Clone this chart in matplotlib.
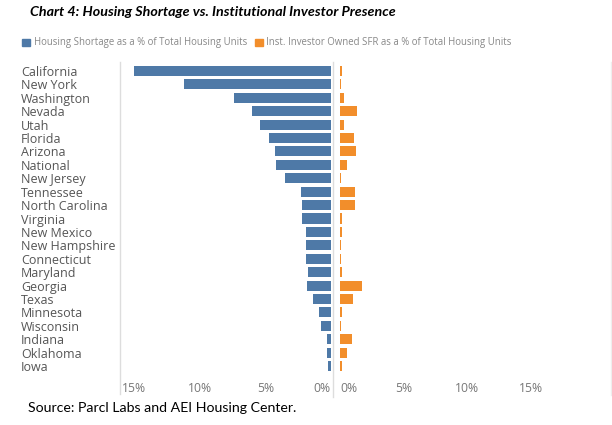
import numpy as np
import matplotlib.pyplot as plt
from matplotlib.patches import Patch
from matplotlib.lines import Line2D

### Data
states = ['California', 'New York', 'Washington', 'Nevada', 'Utah', 'Florida',
          'Arizona', 'National', 'New Jersey', 'Tennessee', 'North Carolina',
          'Virginia', 'New Mexico', 'New Hampshire', 'Connecticut', 'Maryland',
          'Georgia', 'Texas', 'Minnesota', 'Wisconsin', 'Indiana', 'Oklahoma', 'Iowa']
shortage = [15.0, 11.2, 7.4, 6.0, 5.4, 4.7, 4.3, 4.2, 3.5, 2.3, 2.2,
            2.2, 1.9, 1.87, 1.87, 1.77, 1.8, 1.34, 0.93, 0.76, 0.33, 0.33, 0.23]
investor = [0.16, 0.08, 0.3, 1.35, 0.3, 1.1, 1.25, 0.57, 0.1, 1.2, 1.15,
            0.15, 0.15, 0.06, 0.05, 0.12, 1.75, 1.0, 0.18, 0.07, 0.95, 0.57, 0.15]
ticks = [0, 5, 10, 15]

blue = '#4e79a7'
orange = '#f28e2b'
grey_line = '#dddddd'
text_grey = '#555555'
tick_grey = '#777777'

plt.rcParams['font.family'] = ['Open Sans', 'DejaVu Sans']

W, H = 612, 425
fig = plt.figure(figsize=(W / 100, H / 100), dpi=100)

def px_axes(x0, x1, y0, y1):
    return fig.add_axes([x0 / W, 1 - y1 / H, (x1 - x0) / W, (y1 - y0) / H])

def px_vline(x, y0, y1, color):
    fig.add_artist(Line2D([x / W, x / W], [1 - y0 / H, 1 - y1 / H],
                          color=color, lw=1, transform=fig.transFigure))

top, bottom = 62, 378
ax1 = px_axes(119, 333, top, bottom)
ax2 = px_axes(333, 610, top, bottom)

y = np.arange(len(states))
n = len(states)
# rows at 71..366 px, spacing ~13.4 px
row = (366 - 71) / (n - 1)
ylim = (n - 1 + (bottom - 366) / row, -(71 - top) / row)

ax1.barh(y, shortage, height=0.75, color=blue)
ax2.barh(y, investor, height=0.75, color=orange)

# left: 0 at 331 px, 13.13 px per %
s1 = 13.13
ax1.set_xlim((331 - 119) / s1, -(333 - 331) / s1)
# right: 0 at 340 px, 12.75 px per %
s2 = 12.75
ax2.set_xlim(-(340 - 333) / s2, (610 - 340) / s2)

for ax in (ax1, ax2):
    ax.set_ylim(*ylim)
    ax.set_xticks(ticks)
    ax.set_xticklabels([f'{t}%' for t in ticks], color=tick_grey, fontsize=8.7)
    ax.tick_params(axis='x', length=0, pad=3)
    for sp in ax.spines.values():
        sp.set_visible(False)

ax1.get_xticklabels()[0].set_horizontalalignment('right')
ax2.get_xticklabels()[0].set_horizontalalignment('left')

# panel borders
px_vline(119.5, 62, 394, grey_line)
px_vline(332.5, 62, 397, grey_line)
px_vline(610.5, 62, 395, '#eeeeee')

ax1.set_yticks(y)
ax1.set_yticklabels(states, fontsize=9, color=text_grey)
ax1.tick_params(axis='y', length=0, pad=(119 - 21) * 0.72)
for lab in ax1.get_yticklabels():
    lab.set_horizontalalignment('left')
ax2.set_yticks([])

fig.text(30 / W, 1 - 12 / H, 'Chart 4: Housing Shortage vs. Institutional Investor Presence',
         fontsize=10.3, fontweight='bold', fontstyle='italic', family='Lato',
         va='center', ha='left')

leg_items = [(blue, 'Housing Shortage as a % of Total Housing Units', 22),
             (orange, 'Inst. Investor Owned SFR as a % of Total Housing Units', 255)]
for col, lab, x0 in leg_items:
    leg = fig.legend(handles=[Patch(color=col, label=lab)], loc='center left',
                     bbox_to_anchor=(x0 / W, 1 - 43 / H), frameon=False, fontsize=6.9,
                     handlelength=0.8, handleheight=0.8, handletextpad=0.4,
                     borderaxespad=0, borderpad=0)
    for t in leg.get_texts():
        t.set_color('#888888')

fig.text(28 / W, 1 - 408 / H, 'Source: Parcl Labs and AEI Housing Center.',
         fontsize=10.2, family='Lato', va='center', ha='left')

fig.savefig('out.png', dpi=100)
